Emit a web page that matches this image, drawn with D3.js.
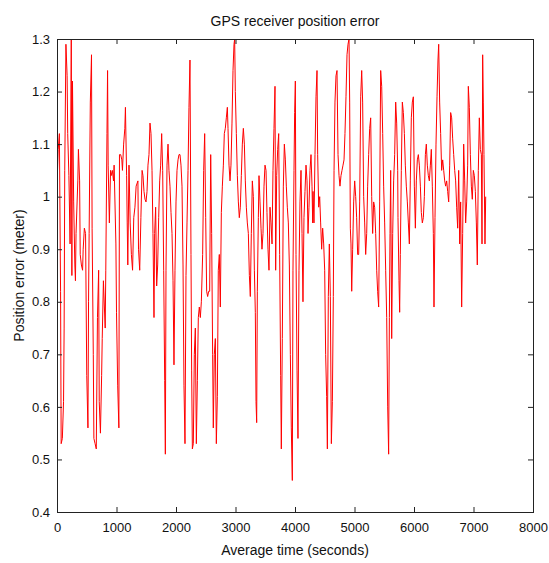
<!DOCTYPE html>
<html>
<head>
<meta charset="utf-8">
<script src="https://cdn.jsdelivr.net/npm/d3@7"></script>
<style>
  body { margin: 0; background: #fff; }
  svg { display: block; }
  text { font-family: "Liberation Sans", Arial, sans-serif; fill: #111; }
</style>
</head>
<body>
<svg id="chart" width="549" height="563"></svg>
<script>
// averaged time (s) and receiver position error (m)
const timeSec = [
  0,20,40,60,70,90,110,120,130,150,170,180,200,220,240,250,260,280,300,310,
  320,350,360,380,390,410,430,440,460,480,500,520,530,540,560,580,590,610,620,640,
  660,680,700,710,730,750,760,780,810,820,840,850,860,880,900,910,930,950,960,990,
  1000,1020,1040,1050,1070,1090,1100,1120,1140,1150,1170,1180,1190,1210,1230,1250,1270,1290,1310,1330,
  1360,1370,1390,1410,1430,
  1445,1462,1479,1496,1513,1529,1546,1563,1580,1597,1613,1630,1641,1658,1675,1692,1709,1726,1742,1759,
  1776,1793,1810,1821,1832,1849,1866,1882,1899,1916,1933,1950,1966,1983,2000,2017,2034,2050,2067,2084,
  2101,2118,2134,2151,2168,2185,2202,2218,2235,2252,2263,2275,2291,2308,2325,2342,2359,2375,2392,2409,
  2426,2448,2465,2482,2499,2515,2532,2549,2566,2583,2599,2616,2627,2644,2661,2678,2695,2711,2728,2745,
  2762,2779,2796,2812,2829,2846,2863,
  2874,2891,2908,2924,2941,2958,2975,2986,2997,3014,3031,3048,3064,3081,3098,3115,3132,3149,3165,3182,
  3199,3216,3233,3249,3266,3283,3300,3317,3333,3345,3356,3367,3384,3395,3412,3429,3445,3462,3479,3496,
  3513,3529,3546,3563,3580,3597,3614,3630,3647,3664,3675,3692,3709,3726,3742,3759,3770,3787,3804,3821,
  3838,3854,3871,3888,3905,3922,3938,3955,3966,3983,3994,4006,4017,4034,4050,4067,4084,4101,4118,4134,
  4151,4168,4185,4202,4219,4235,4252,4269,4286,4297,
  4303,4319,4336,4353,4370,4381,4398,4415,4431,4448,4465,4482,4499,4515,4532,4544,4560,4577,4594,4611,
  4628,4644,4656,4672,4689,4706,4723,4740,4756,4773,4790,4807,4824,4840,4857,4874,4891,4908,4919,4930,
  4941,4953,4969,4986,5003,5020,5036,5053,5070,5087,5104,5121,5137,5154,5171,5188,5205,5221,5238,5255,
  5272,5289,5305,5322,5339,5356,5373,5389,5406,5423,5440,5457,5474,5490,5507,5524,5541,5558,5574,5586,
  5597,5608,5625,5642,5658,5675,5692,5709,5726,
  5731,5748,5759,5770,5787,5804,5821,5838,5854,5871,5888,5905,5922,5938,5955,5972,5989,6006,6023,6039,
  6056,6073,6090,6107,6123,6140,6157,6174,6191,6207,6224,6241,6258,6275,6291,6308,6325,6336,6353,6370,
  6387,6403,6415,6431,6448,6465,6482,6499,6516,6532,6549,6566,6583,6600,6616,6633,6650,6667,6684,6700,
  6717,6734,6751,6768,6784,6801,6818,6835,6852,6868,6885,6902,6913,6930,6947,6964,6980,6997,7014,7031,
  7048,7064,7081,7098,7115,7132,7143,7154,7165,7176,7193,7205
]
const posError = [
  1.02,1.09,1.12,0.82,0.53,0.54,0.61,0.75,1.05,1.29,1.23,1.12,1.04,0.91,1.30,0.85,1.22,0.99,0.87,0.84,
  0.93,1.03,1.09,1.03,0.89,0.87,0.86,0.90,0.94,0.93,0.66,0.56,0.80,0.93,1.18,1.27,0.94,0.70,0.54,0.53,
  0.52,0.77,0.86,0.61,0.55,0.66,0.73,0.84,0.75,0.86,1.12,1.24,1.06,0.95,1.05,1.04,1.05,1.03,1.06,0.91,
  0.78,0.64,0.56,1.08,1.08,1.07,1.05,1.10,1.13,1.17,1.04,0.95,0.87,1.06,0.95,0.89,0.86,0.96,0.98,1.02,
  1.03,0.90,0.86,0.96,1.05,
  1.04,1.01,0.995,0.99,1.01,1.06,1.08,1.14,1.12,1.05,0.93,0.77,0.93,0.98,0.83,0.87,0.96,1.03,1.06,1.12,
  1.05,0.86,0.65,0.51,0.86,1.06,1.10,1.05,1.02,0.97,0.93,0.84,0.68,0.86,0.99,1.05,1.07,1.08,1.08,1.06,
  1.02,0.87,0.64,0.53,0.85,0.95,1.05,1.17,1.26,0.89,0.67,0.52,0.53,0.70,0.75,0.53,0.65,0.77,0.79,0.77,
  0.80,0.89,1.05,1.12,0.96,0.82,0.81,0.82,0.82,1.08,0.93,0.70,0.56,0.70,0.73,0.53,0.62,0.86,0.89,0.79,
  0.97,1.02,1.06,1.12,1.13,1.15,1.17,
  1.13,1.06,1.03,1.06,1.14,1.24,1.29,1.30,1.20,1.12,1.04,0.99,0.96,0.98,1.04,1.10,1.13,1.10,1.03,0.98,
  0.95,0.93,0.85,0.81,0.93,1.03,1.00,0.86,0.78,0.61,0.57,0.82,0.96,1.04,0.99,0.94,0.90,0.93,1.02,1.06,
  1.05,0.97,0.90,0.86,0.98,0.95,0.91,1.05,1.13,1.21,0.86,1.04,1.09,1.12,0.89,0.66,0.52,0.73,1.02,1.10,
  1.07,1.02,0.98,0.95,0.87,0.70,0.56,0.46,0.86,1.05,1.16,1.22,0.89,0.67,0.54,0.86,0.99,1.05,0.93,0.80,
  0.96,1.01,1.06,1.03,0.93,0.98,1.05,1.08,1.02,0.95,
  1.01,0.95,1.08,1.19,1.24,1.08,0.98,1.00,0.95,0.90,0.94,0.91,0.86,0.70,0.62,0.52,0.81,0.91,0.81,0.53,
  0.61,0.81,1.05,1.18,1.23,1.24,1.08,1.04,1.02,1.04,1.05,1.06,1.07,1.12,1.19,1.27,1.29,1.30,1.18,0.94,
  0.91,0.82,0.90,0.99,1.03,1.00,0.96,0.89,0.89,0.99,1.19,1.24,1.18,1.00,0.95,0.89,0.93,1.02,1.08,1.13,
  1.15,1.00,0.93,0.99,0.98,0.93,0.86,0.82,0.79,0.99,1.24,1.21,1.12,1.02,0.95,0.86,0.77,0.60,0.51,0.77,
  0.93,1.05,0.73,0.93,1.03,1.08,1.18,1.14,1.05,
  0.96,0.84,0.78,0.89,1.05,1.18,1.16,1.12,1.06,1.02,0.99,0.95,0.91,1.03,1.15,1.18,1.19,1.02,0.94,1.03,
  1.07,1.08,1.06,1.02,0.97,0.95,0.96,1.00,1.08,1.10,1.06,1.04,1.03,1.06,1.09,1.02,0.93,0.79,0.96,1.10,
  1.19,1.26,1.29,1.18,1.12,1.05,1.07,1.05,1.03,1.02,1.03,1.01,0.99,1.06,1.16,1.15,1.11,1.08,1.05,1.03,
  0.98,0.94,1.05,0.91,0.99,0.79,0.93,1.10,1.03,0.95,0.99,1.06,1.21,1.17,1.08,1.02,0.995,1.05,1.04,1.01,
  0.95,0.87,1.05,1.15,1.09,1.08,0.91,1.27,1.18,1.08,0.91,1.00
]
const xTicks = [0, 1000, 2000, 3000, 4000, 5000, 6000, 7000, 8000]
const yTicks = [0.4, 0.5, 0.6, 0.7, 0.8, 0.9, 1, 1.1, 1.2, 1.3]

const title = 'GPS receiver position error'
const xLabel = 'Average time (seconds)'
const yLabel = 'Position error (meter)'

// layout
const plotLeft = 57, plotRight = 533, plotTop = 39, plotBottom = 512
const tick = 5
const axisColor = '#222'

const svg = d3.select('#chart')

const x = d3.scaleLinear().domain([0, 8000]).range([plotLeft, plotRight])
const y = d3.scaleLinear().domain([0.4, 1.3]).range([plotBottom, plotTop])

svg.append('defs').append('clipPath')
    .attr('id', 'plot-clip')
  .append('rect')
    .attr('x', plotLeft).attr('y', plotTop - 1)
    .attr('width', plotRight - plotLeft).attr('height', plotBottom - plotTop + 2)

// data line
const line = d3.line()
    .x(i => x(timeSec[i]))
    .y(i => y(posError[i]))

svg.append('path')
    .attr('clip-path', 'url(#plot-clip)')
    .attr('d', line(d3.range(timeSec.length)))
    .attr('fill', 'none')
    .attr('stroke', '#ff0000')
    .attr('stroke-width', 1)

// axes, ticks pointing inward
const fmtX = d3.format('d')
const fmtY = d => String(+d.toFixed(1))

const gBottom = svg.append('g')
    .attr('transform', `translate(0,${plotBottom})`)
    .call(d3.axisBottom(x).tickValues(xTicks).tickSizeInner(-tick).tickSizeOuter(0).tickPadding(11).tickFormat(fmtX))
const gTop = svg.append('g')
    .attr('transform', `translate(0,${plotTop})`)
    .call(d3.axisTop(x).tickValues(xTicks).tickSizeInner(-tick).tickSizeOuter(0).tickFormat(''))
const gLeft = svg.append('g')
    .attr('transform', `translate(${plotLeft},0)`)
    .call(d3.axisLeft(y).tickValues(yTicks).tickSizeInner(-tick).tickSizeOuter(0).tickPadding(7).tickFormat(fmtY))
const gRight = svg.append('g')
    .attr('transform', `translate(${plotRight},0)`)
    .call(d3.axisRight(y).tickValues(yTicks).tickSizeInner(-tick).tickSizeOuter(0).tickFormat(''))

for (const g of [gBottom, gTop, gLeft, gRight]) {
    g.select('path.domain').remove()
    g.selectAll('.tick line').attr('stroke', axisColor)
    g.selectAll('.tick text')
        .attr('fill', '#111')
        .style('font-size', '13px')
        .style('font-family', '"Liberation Sans", Arial, sans-serif')
}

// box
svg.append('rect')
    .attr('x', plotLeft + 0.5).attr('y', plotTop + 0.5)
    .attr('width', plotRight - plotLeft).attr('height', plotBottom - plotTop)
    .attr('fill', 'none')
    .attr('stroke', axisColor)
    .attr('stroke-width', 1)

// labels
svg.append('text')
    .attr('x', (plotLeft + plotRight) / 2).attr('y', 26)
    .attr('text-anchor', 'middle')
    .style('font-size', '14px')
    .text(title)

svg.append('text')
    .attr('x', (plotLeft + plotRight) / 2).attr('y', 555)
    .attr('text-anchor', 'middle')
    .style('font-size', '14px')
    .text(xLabel)

svg.append('text')
    .attr('transform', `translate(24,${(plotTop + plotBottom) / 2}) rotate(-90)`)
    .attr('text-anchor', 'middle')
    .style('font-size', '14px')
    .text(yLabel)
</script>
</body>
</html>
